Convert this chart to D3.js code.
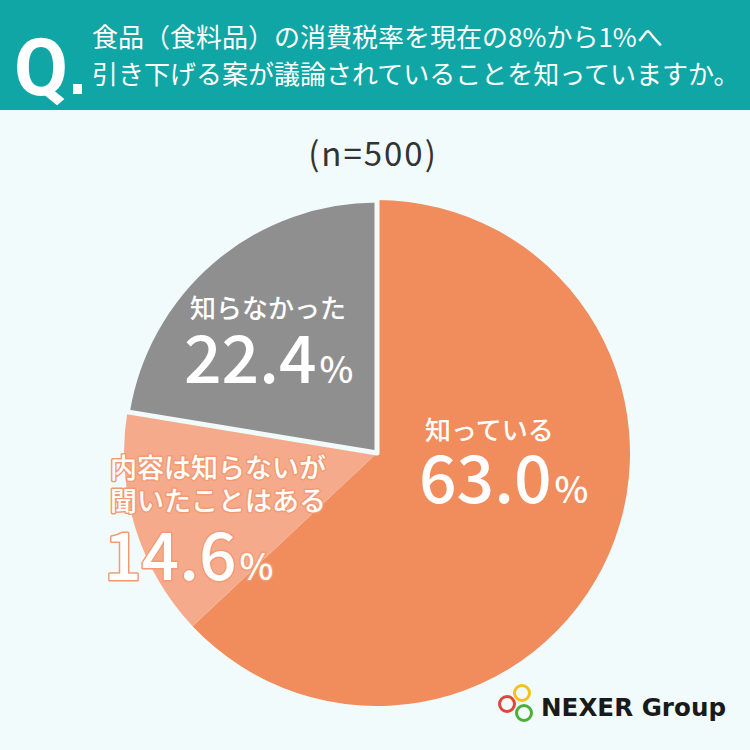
<!DOCTYPE html>
<html>
<head>
<meta charset="utf-8">
<script src="https://cdn.jsdelivr.net/npm/d3@7"></script>
<style>
  html, body { margin: 0; padding: 0; background: #f2fbfc; }
  svg { display: block; }
</style>
</head>
<body>
<div id="wrapper"></div>
<script>
// data
const categories = ["知っている", "内容は知らないが聞いたことはある", "知らなかった"];
const values = [63.0, 14.6, 22.4];
const sampleLabel = "(n=500)";
const titleLines = [
  "食品（食料品）の消費税率を現在の8%から1%へ",
  "引き下げる案が議論されていることを知っていますか。"
];

function drawPie() {
  const dimensions = { width: 750, height: 750, headerHeight: 110 };
  const center = { x: 377, y: 453 };
  const radius = 253;

  const colors = ["#f18c5c", "#f5ab8b", "#8f8f8f"];
  const jpFont = "'Noto Sans CJK JP', 'Noto Sans', sans-serif";

  const svg = d3.select("#wrapper")
    .append("svg")
    .attr("width", dimensions.width)
    .attr("height", dimensions.height);

  svg.append("rect")
    .attr("width", dimensions.width)
    .attr("height", dimensions.height)
    .attr("fill", "#f2fbfc");

  // header
  svg.append("rect")
    .attr("width", dimensions.width)
    .attr("height", dimensions.headerHeight)
    .attr("fill", "#10a6a5");

  svg.append("text")
    .attr("x", 14)
    .attr("y", 95)
    .attr("fill", "#fff")
    .style("font-family", "Roboto, sans-serif")
    .style("font-weight", 700)
    .style("font-size", "80px")
    .attr("textLength", 54)
    .attr("lengthAdjust", "spacingAndGlyphs")
    .text("Q");
  svg.append("rect")
    .attr("x", 73).attr("y", 84)
    .attr("width", 9).attr("height", 10)
    .attr("fill", "#fff");

  svg.selectAll(".title")
    .data(titleLines)
    .join("text")
    .attr("class", "title")
    .attr("x", 92)
    .attr("y", (d, i) => 47 + i * 37)
    .attr("fill", "#fff")
    .style("font-family", jpFont)
    .style("font-weight", 400)
    .style("font-size", "26px")
    .text(d => d);

  svg.append("text")
    .attr("x", center.x - 4)
    .attr("y", 166)
    .attr("text-anchor", "middle")
    .attr("fill", "#333")
    .style("font-family", jpFont)
    .style("font-weight", 400)
    .style("font-size", "33px")
    .style("letter-spacing", "2px")
    .text(sampleLabel);

  // pie
  const pie = d3.pie().sort(null).value(d => d)(values);
  const arc = d3.arc().innerRadius(0).outerRadius(radius);

  const g = svg.append("g")
    .attr("transform", `translate(${center.x},${center.y})`);

  g.selectAll("path")
    .data(pie)
    .join("path")
    .attr("d", arc)
    .attr("fill", (d, i) => colors[i])
    .attr("stroke", (d, i) => i === 2 ? "#f2fbfc" : "none")
    .attr("stroke-width", 5)
    .attr("stroke-linejoin", "round");

  // labels
  const labelLayout = [
    { lines: ["知っている"], x: 425, y: 440, numY: 503, num: values[0] },
    { lines: ["内容は知らないが", "聞いたことはある"], x: 110, y: 478, numY: 580, num: values[1], outline: true },
    { lines: ["知らなかった"], x: 190, y: 318, numY: 383, num: values[2] }
  ];

  labelLayout.forEach(l => {
    const lg = svg.append("g");
    lg.selectAll(".lbl")
      .data(l.lines)
      .join("text")
      .attr("x", l.x)
      .attr("y", (d, i) => l.y + i * 33)
      .attr("fill", "#fff")
      .style("font-family", jpFont)
      .style("font-weight", 500)
      .style("font-size", l.outline ? "27px" : "26px")
      .text(d => d);
    const num = lg.append("text")
      .attr("x", l.x - 6)
      .attr("y", l.numY)
      .attr("fill", "#fff")
      .style("font-family", jpFont)
      .style("font-weight", 500)
      .style("font-size", "66px");
    num.append("tspan").text(d3.format(".1f")(l.num));
    num.append("tspan").style("font-size", "36px").attr("dx", 3).text("%");
    if (l.outline) {
      lg.selectAll("text")
        .attr("stroke", "#f29a74")
        .attr("stroke-width", 3)
        .attr("stroke-linejoin", "round")
        .style("paint-order", "stroke");
    }
  });

  // logo
  const logo = svg.append("g");
  const rings = [
    { cx: 522, cy: 693, c: "#f2c31b" },
    { cx: 507, cy: 704, c: "#e0473a" },
    { cx: 524, cy: 713, c: "#4caf3c" }
  ];
  logo.selectAll("circle")
    .data(rings)
    .join("circle")
    .attr("cx", d => d.cx)
    .attr("cy", d => d.cy)
    .attr("r", 7.5)
    .attr("fill", "none")
    .attr("stroke", d => d.c)
    .attr("stroke-width", 3);
  logo.append("text")
    .attr("x", 541)
    .attr("y", 716)
    .attr("fill", "#1a1a1a")
    .style("font-family", "'DejaVu Sans', sans-serif")
    .style("font-weight", 700)
    .style("font-size", "25px")
    .attr("textLength", 185)
    .attr("lengthAdjust", "spacingAndGlyphs")
    .text("NEXER Group");
}
drawPie();
</script>
</body>
</html>
